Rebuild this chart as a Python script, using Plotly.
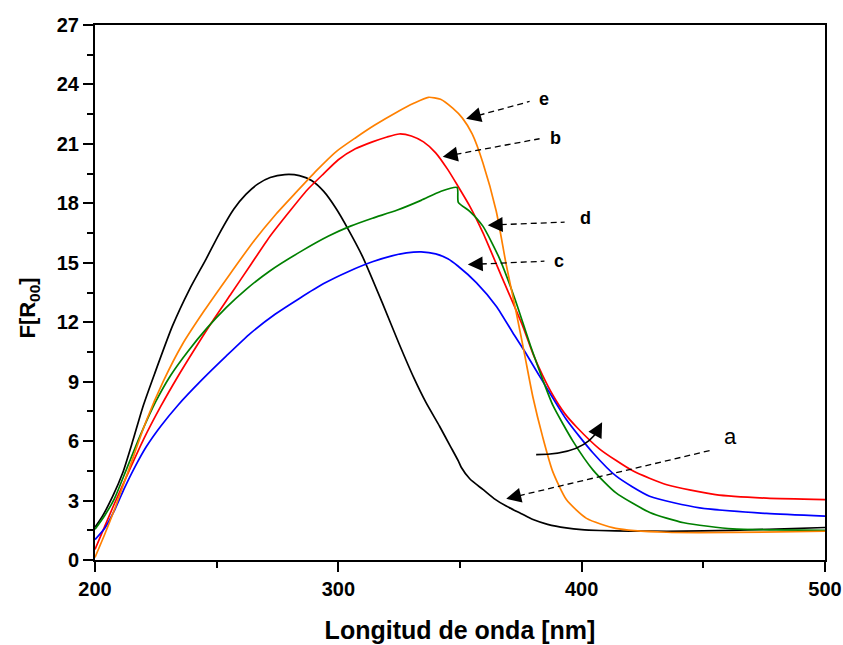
import math
import plotly.graph_objects as go

# ---------------- data ----------------
a_x = [200, 203, 207.3, 211.4, 215.5, 219.6, 224.5, 231.8, 238.8, 245.7, 251, 257, 262, 267, 272, 278,
       284, 289, 294, 299, 304, 310, 318, 325, 331, 336, 341.6, 346, 349.3, 350.5, 354, 359.4,
       364, 369, 375, 380, 386, 393.6, 400, 407.4, 420, 435, 450, 462, 480, 500]
a_y = [1.65, 2.2, 3.22, 4.4, 6.0, 7.7, 9.4, 11.8, 13.65, 15.2, 16.45, 17.7, 18.45, 18.98, 19.3, 19.45,
       19.4, 19.15, 18.6, 17.75, 16.7, 15.3, 13.0, 10.9, 9.2, 7.95, 6.75, 5.75, 5.0, 4.68, 4.1, 3.56,
       3.1, 2.72, 2.35, 2.04, 1.8, 1.62, 1.53, 1.49, 1.46, 1.45, 1.47, 1.5, 1.56, 1.64]

b_x = [200, 204, 208, 214, 220, 227, 234, 241, 248, 256, 264, 272, 280, 287, 294, 300, 307, 314, 320,
       325, 330, 335, 340, 345, 349, 354, 359.4, 367.6, 375.8, 380, 384, 388, 393, 398, 407.4, 421,
       435, 455, 476, 500]
b_y = [0.53, 1.7, 2.85, 4.5, 6.1, 7.75, 9.25, 10.65, 12.0, 13.45, 14.9, 16.35, 17.6, 18.65, 19.5, 20.2,
       20.75, 21.1, 21.35, 21.5, 21.4, 21.1, 20.55, 19.7, 18.9, 17.86, 16.52, 14.16, 11.8, 10.4, 9.3,
       8.35, 7.4, 6.7, 5.6, 4.5, 3.8, 3.3, 3.12, 3.05]

c_x = [200, 204, 208, 212, 216, 221, 227, 234, 244, 254, 264, 274, 284, 294, 304, 314, 322, 328, 334,
       340, 345, 349, 356.7, 364.9, 371.7, 376.5, 382.7, 393.7, 404.6, 414.2, 427.9, 448.5, 475.9, 500]
c_y = [1.03, 1.6, 2.5, 3.6, 4.6, 5.7, 6.75, 7.8, 9.1, 10.3, 11.45, 12.4, 13.2, 13.95, 14.55, 15.05,
       15.35, 15.5, 15.55, 15.45, 15.2, 14.85, 14.0, 12.81, 11.47, 10.55, 9.28, 7.09, 5.41, 4.23, 3.22,
       2.63, 2.35, 2.21]

d_x = [200, 204, 208, 213, 219, 225, 231, 238, 246, 254, 262, 272, 285, 296, 305, 314, 324, 334, 342,
       348.8, 349.3, 354, 359.4, 366.3, 372.5, 379, 384, 388.2, 396.4, 404.6, 414, 428, 442, 462, 480, 500]
d_y = [1.55, 2.25, 3.1, 4.6, 6.4, 8.0, 9.3, 10.5, 11.7, 12.75, 13.65, 14.6, 15.6, 16.35, 16.85, 17.25,
       17.65, 18.15, 18.6, 18.8, 18.05, 17.6, 16.85, 15.2, 13.2, 10.8, 9.1, 7.8, 6.0, 4.55, 3.4, 2.4,
       1.88, 1.57, 1.52, 1.5]

e_x = [200, 204, 208, 214, 221, 228, 236, 245, 255, 265, 274, 283, 291, 299, 307, 315, 324, 331, 337,
       342, 347, 351, 355, 359.4, 364.9, 369, 373.1, 376.5, 380, 384, 388, 393.7, 402, 414, 435, 462, 500]
e_y = [0.13, 1.3, 2.55, 4.6, 7.0, 9.0, 10.9, 12.6, 14.35, 16.05, 17.4, 18.6, 19.65, 20.6, 21.3, 21.95,
       22.6, 23.05, 23.35, 23.25, 22.8, 22.3, 21.5, 20.05, 17.6, 14.9, 12.5, 10.4, 8.2, 6.2, 4.5, 3.05,
       2.1, 1.6, 1.4, 1.39, 1.45]

x_ticks = [200, 300, 400, 500]
y_ticks = [0, 3, 6, 9, 12, 15, 18, 21, 24, 27]

# labels: (text, tip_x, tip_y, tail_x, tail_y, label_x, label_y)
labels = [
    ("e", 352.5, 22.27, 378.6, 23.14, 381.5, 23.25),
    ("b", 342.9, 20.35, 382.7, 21.26, 386.3, 21.3),
    ("d", 361.4, 16.90, 393.0, 17.05, 398.3, 17.25),
    ("c", 353.2, 14.91, 384.7, 15.08, 388.0, 15.1),
]
a_label = ("a", 369.0, 3.09, 453.2, 5.54, 457.5, 6.25)
curve_arrow = (381.3, 5.32, 401.2, 5.32, 408.4, 6.95)

FONT = "Arial, Liberation Sans, sans-serif"

fig = go.Figure()
for xs, ys, col in [(a_x, a_y, "#000000"), (b_x, b_y, "#FF0000"), (c_x, c_y, "#0000FF"),
                    (d_x, d_y, "#008000"), (e_x, e_y, "#FF8000")]:
    fig.add_trace(go.Scatter(x=xs, y=ys, mode="lines",
                             line=dict(color=col, width=1.7, shape="spline", smoothing=0.6),
                             showlegend=False, hoverinfo="skip"))

# pixel scale for arrowhead direction
PX_X = 730 / 300.0
PX_Y = 535 / 27.0

def head(tipx, tipy, tailx, taily, length=15):
    dx = (tailx - tipx) * PX_X
    dy = -(taily - tipy) * PX_Y
    n = math.hypot(dx, dy)
    return dict(x=tipx, y=tipy, ax=dx / n * length, ay=dy / n * length, xref="x", yref="y",
                showarrow=True, arrowhead=2, arrowsize=2.3, arrowwidth=1.3, arrowcolor="black", text="")

def shrink(tipx, tipy, tailx, taily, length=13):
    dx = (tailx - tipx) * PX_X
    dy = (taily - tipy) * PX_Y
    n = math.hypot(dx, dy)
    return tipx + (tailx - tipx) * length / n, tipy + (taily - tipy) * length / n

annotations = []
shapes = []
for txt, tx, ty, sx, sy, lx, ly in labels:
    px0, py0 = shrink(tx, ty, sx, sy)
    shapes.append(dict(type="line", xref="x", yref="y", x0=px0, y0=py0, x1=sx, y1=sy,
                       line=dict(color="black", width=1.3, dash="6px,4px")))
    annotations.append(head(tx, ty, sx, sy))
    annotations.append(dict(x=lx, y=ly, xref="x", yref="y", text=txt, showarrow=False,
                            xanchor="left", font=dict(family=FONT, size=18, color="black", weight="bold")))

txt, tx, ty, sx, sy, lx, ly = a_label
px0, py0 = shrink(tx, ty, sx, sy)
shapes.append(dict(type="line", xref="x", yref="y", x0=px0, y0=py0, x1=sx, y1=sy,
                   line=dict(color="black", width=1.3, dash="6px,4px")))
annotations.append(head(tx, ty, sx, sy))
annotations.append(dict(x=lx, y=ly, xref="x", yref="y", text=txt, showarrow=False,
                        xanchor="left", font=dict(family=FONT, size=22, color="black")))

x0, y0, cx, cy, x1, y1 = curve_arrow
ex, ey = shrink(x1, y1, cx, cy, 8)
shapes.append(dict(type="path", xref="x", yref="y",
                   path=f"M {x0},{y0} Q {cx},{cy} {ex},{ey}",
                   line=dict(color="black", width=1.6)))
annotations.append(head(x1, y1, cx, cy))

# y-axis title as annotation (positioned like the reference)
annotations.append(dict(text="F[R<sub>00</sub>]", textangle=-90, xref="paper", yref="paper",
                        x=0, y=0.47, xshift=-66, showarrow=False, xanchor="center", yanchor="middle",
                        font=dict(family=FONT, size=22, color="black", weight="bold")))

fig.update_layout(
    width=843, height=645,
    margin=dict(l=95, r=18, t=25, b=85),
    paper_bgcolor="white", plot_bgcolor="white",
    shapes=shapes, annotations=annotations,
    xaxis=dict(range=[200, 500], tickmode="array", tickvals=x_ticks, ticktext=[str(v) for v in x_ticks],
               ticks="outside", ticklen=10, tickwidth=2, tickcolor="black", automargin=False,
               minor=dict(dtick=50, ticks="outside", ticklen=6, tickwidth=2, tickcolor="black"),
               showline=True, linewidth=2, linecolor="black", mirror=True, showgrid=False, zeroline=False,
               tickfont=dict(family=FONT, size=20, color="black", weight="bold"),
               title=dict(text="Longitud de onda [nm]", standoff=22,
                          font=dict(family=FONT, size=25, color="black", weight="bold"))),
    yaxis=dict(range=[0, 27], tickmode="array", tickvals=y_ticks, ticktext=[str(v) for v in y_ticks],
               ticks="outside", ticklen=10, tickwidth=2, tickcolor="black", automargin=False,
               minor=dict(dtick=1.5, ticks="outside", ticklen=6, tickwidth=2, tickcolor="black"),
               showline=True, linewidth=2, linecolor="black", mirror=True, showgrid=False, zeroline=False,
               tickfont=dict(family=FONT, size=20, color="black", weight="bold")),
)

fig.write_html("out.html")
